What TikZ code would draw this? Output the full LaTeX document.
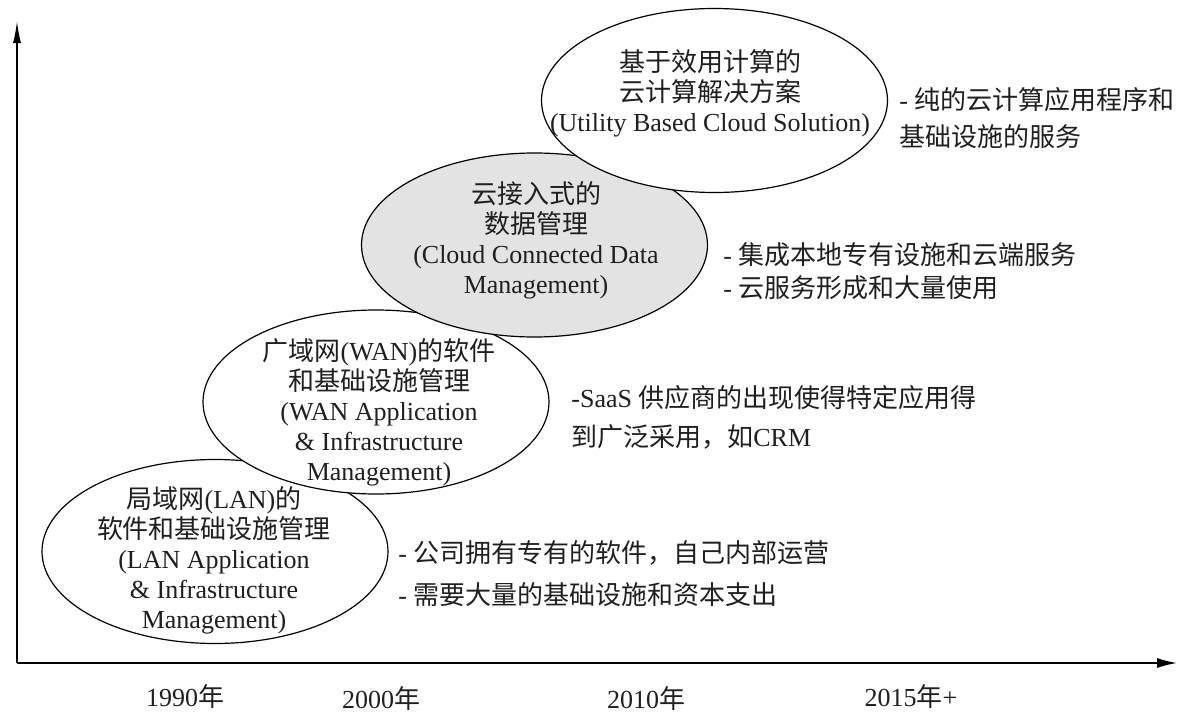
\documentclass[tikz,border=0pt]{standalone}
\usepackage{fontspec}
\setmainfont{Liberation Serif}
\newfontfamily\cjk{Noto Sans CJK SC}
\newcommand{\zh}[1]{{\cjk #1}}
\usetikzlibrary{shapes.geometric,arrows.meta}
\begin{document}
\begin{tikzpicture}[x=0.5pt,y=-0.5pt,
  every node/.style={text=black!88},
  era/.style={ellipse,draw=black,line width=0.6pt,fill=white,inner sep=0pt,minimum width=173pt,minimum height=92pt},
  eratext/.style={align=center,font=\fontsize{13}{15}\selectfont,inner sep=0pt},
  note/.style={align=left,anchor=west,inner sep=0pt},
  yearlab/.style={font=\fontsize{13}{15}\selectfont,inner sep=0pt},
  vaxis/.style={line width=0.75pt,-{Latex[length=11pt,width=4pt]}},
  haxis/.style={line width=0.75pt,-{Latex[length=10pt,width=5pt]}}]
\useasboundingbox (0,0) rectangle (1179,712);
% axes
\coordinate (O) at (17,663);
\coordinate (Ytop) at (17,21);
\coordinate (Xend) at (1177,663);
\draw[vaxis] (O) -- (Ytop);
\draw[haxis] (O) -- (Xend);
% ellipses
\node[era] (lan) at (215,551.5) {};
\node[era] (wan) at (376,402) {};
\node[era,fill={rgb,255:red,227;green,227;blue,227}] (cloud) at (534.5,245) {};
\node[era] (util) at (714.5,100.5) {};
% texts in ellipses
\node[eratext] (lant) at (214,560) {\zh{局域网}(LAN)\zh{的}\\\zh{软件和基础设施管理}\\(LAN Application\\\& Infrastructure\\Management)};
\node[eratext] (want) at (379,412) {\zh{广域网}(WAN)\zh{的软件}\\\zh{和基础设施管理}\\(WAN Application\\\& Infrastructure\\Management)};
\node[eratext] (cloudt) at (536,240) {\zh{云接入式的}\\\zh{数据管理}\\(Cloud Connected Data\\Management)};
\node[eratext] (utilt) at (710,93) {\zh{基于效用计算的}\\\zh{云计算解决方案}\\(Utility Based Cloud Solution)};
% side notes
\node[note,font=\fontsize{13}{18.5}\selectfont] (utiln) at (899,118.5) {- \zh{纯的云计算应用程序和}\\\zh{基础设施的服务}};
\node[note,font=\fontsize{13}{16.5}\selectfont] (cloudn) at (723,271.5) {- \zh{集成本地专有设施和云端服务}\\- \zh{云服务形成和大量使用}};
\node[note,font=\fontsize{13}{19.5}\selectfont] (wann) at (571,417.5) {-SaaS \zh{供应商的出现使得特定应用得}\\\zh{到广泛采用，如}CRM};
\node[note,font=\fontsize{13}{21}\selectfont] (lann) at (398,574) {- \zh{公司拥有专有的软件，自己内部运营}\\- \zh{需要大量的基础设施和资本支出}};
% years
\node[yearlab] (y1990) at (185,697) {1990\zh{年}};
\node[yearlab] (y2000) at (381,699) {2000\zh{年}};
\node[yearlab] (y2010) at (646,699) {2010\zh{年}};
\node[yearlab] (y2015) at (911,697) {2015\zh{年}+};
\end{tikzpicture}
\end{document}
